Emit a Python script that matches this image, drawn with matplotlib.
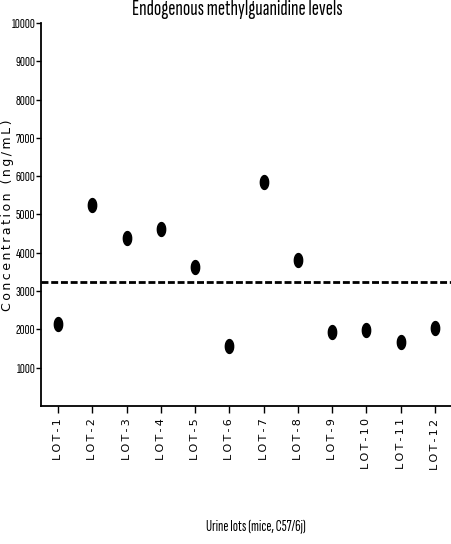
import matplotlib
matplotlib.use("Agg")
import matplotlib.pyplot as plt
import numpy as np

# Data
lots = ["LOT-1", "LOT-2", "LOT-3", "LOT-4", "LOT-5", "LOT-6",
        "LOT-7", "LOT-8", "LOT-9", "LOT-10", "LOT-11", "LOT-12"]
conc = [2150, 5240, 4390, 4630, 3640, 1560, 5850, 3810, 1940, 1990, 1660, 2040]
mean_level = 3240

narrow = ["Sofia Sans Extra Condensed", "DejaVu Sans"]


def spaced(s):
    # the original rotated texts look letter-spaced
    return "\u2009".join(s)


# tall elliptical dot like the original
t = np.linspace(0, 2 * np.pi, 40)
dot = np.column_stack([0.6 * np.cos(t), np.sin(t)])

fig = plt.figure(figsize=(4.52, 5.44), dpi=100)
ax = fig.add_axes([0.0907, 0.2537, 0.9093, 0.704])

x = list(range(1, len(lots) + 1))
ax.plot(x, conc, linestyle="none", marker=dot, color="black", markersize=10)
ax.axhline(mean_level, color="black", linestyle=(0, (2.5, 1)), linewidth=2)

ax.set_xlim(0.5, 12.5)
ax.set_ylim(0, 10000)
ax.set_yticks(range(1000, 10001, 1000))
ax.set_yticklabels([str(v) for v in range(1000, 10001, 1000)],
                   family=narrow, fontsize=10)
ax.set_xticks(x)
ax.set_xticklabels([spaced(l) for l in lots], rotation=90, fontsize=8,
                   family="DejaVu Sans")

ax.spines["top"].set_visible(False)
ax.spines["right"].set_visible(False)
ax.spines["left"].set_linewidth(1.3)
ax.spines["bottom"].set_linewidth(1.3)
ax.tick_params(axis="y", length=3.5, width=1, pad=0.5)
ax.tick_params(axis="x", length=5, width=1, pad=4)

fig.text(8 / 452, 0.605, spaced("Concentration (ng/mL)"), rotation=90,
         ha="center", va="center", fontsize=9, family="DejaVu Sans")
fig.text(0.524, 0.972, "Endogenous methylguanidine levels", ha="center",
         va="baseline", fontsize=15.5, family=narrow)
fig.text(0.566, 0.031, "Urine lots (mice, C57/6j)", ha="center",
         va="center", fontsize=11, family=narrow)

fig.savefig("out.png", dpi=100)
